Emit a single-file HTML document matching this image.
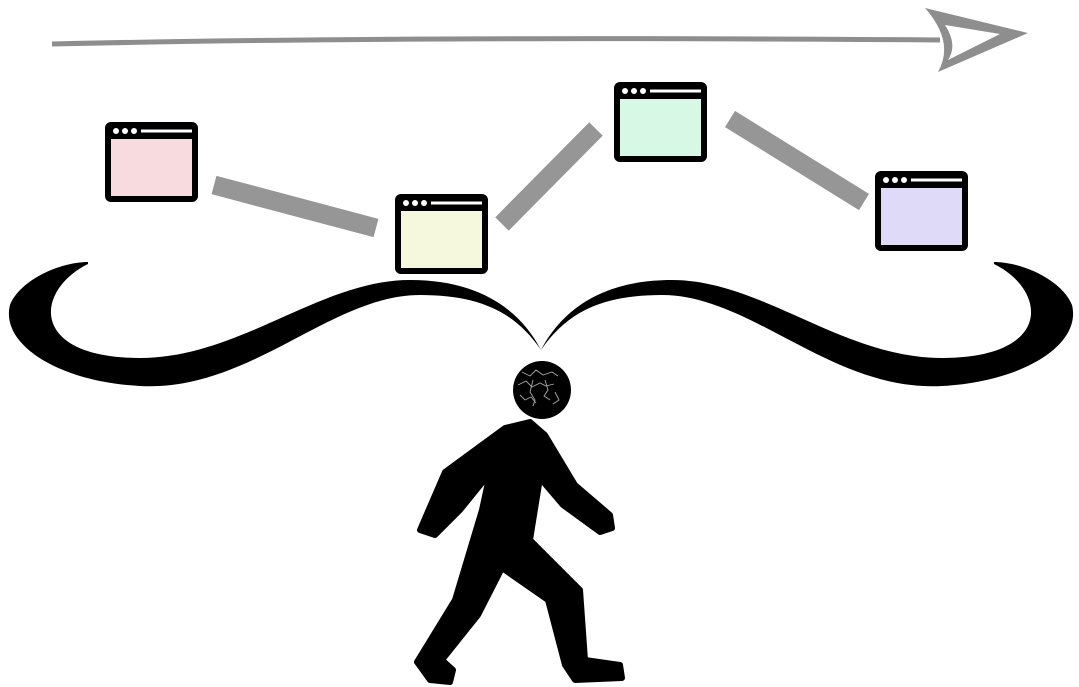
<!DOCTYPE html>
<html><head><meta charset="utf-8"><style>
html,body{margin:0;padding:0;background:#fff;width:1079px;height:687px;overflow:hidden}
</style></head><body>
<svg width="1079" height="687" viewBox="0 0 1079 687" xmlns="http://www.w3.org/2000/svg">
<path d="M52,44 Q400,36 940,40" stroke="#8e8e8e" stroke-width="5" fill="none"/>
<path d="M925,8 L1028,33 L938,72 Q955,42 925,8 Z M945,25 Q958,45 948,60 L1000,34 Z" fill="#8e8e8e" fill-rule="evenodd"/>
<g stroke="#969696" stroke-width="19" stroke-linecap="butt">
<line x1="214" y1="185" x2="376" y2="228"/>
<line x1="502" y1="224" x2="596" y2="129"/>
<line x1="730" y1="119" x2="864" y2="202"/>
</g>
<defs>
<g id="win">
<rect x="0" y="0" width="93" height="80" rx="6" fill="#000"/>
<circle cx="11" cy="9" r="3" fill="#fff"/><circle cx="20" cy="9" r="3" fill="#fff"/><circle cx="29" cy="9" r="3" fill="#fff"/>
<rect x="36" y="7.5" width="51" height="3" fill="#fff"/>
</g>
</defs>
<g transform="translate(105,122)"><use href="#win"/><rect x="6" y="17" width="81" height="57" fill="#f8dbde"/></g>
<g transform="translate(395,194)"><use href="#win"/><rect x="6" y="17" width="81" height="57" fill="#f5f8dc"/></g>
<g transform="translate(614,82)"><use href="#win"/><rect x="6" y="17" width="81" height="57" fill="#d8f8e6"/></g>
<g transform="translate(875,171)"><use href="#win"/><rect x="6" y="17" width="81" height="57" fill="#dfdaf8"/></g>
<g id="mh">
<path d="M88,264 C35,290 28,358 140,358 C240,358 320,280 410,280 C480,280 520,310 541,350 C515,312 480,295 420,295 C330,295 250,392 140,386 C60,382 0,345 10,305 C20,280 60,262 88,262 Z" fill="#000"/>
</g>
<use href="#mh" transform="translate(1082,0) scale(-1,1)"/>
<ellipse cx="542" cy="390" rx="29" ry="29" fill="#000"/>
<path d="M522,372 l8,4 l6,-6 l7,5 l9,-3 l6,4 M518,385 l8,-4 l6,6 l8,-4 l6,3 l8,-2 M520,395 l5,5 l6,-3 l5,6 M545,380 l3,10 l-4,6 l6,4 M533,380 l-3,12 l5,8 l-2,6 M555,392 l4,8 l-6,4" stroke="#aaa" stroke-width="0.9" fill="none"/>
<path d="M505,428 L530,422 L545,435 L575,485 L610,515 L612,528 L600,532 L563,505 L540,478 L530,540 L580,590 L585,660 L620,665 L622,678 L575,680 L565,665 L548,600 L502,568 L478,615 L442,660 L453,670 L450,682 L430,680 L417,662 L455,600 L482,510 L490,473 L460,510 L435,535 L420,530 L445,472 Z" fill="#000" stroke="#000" stroke-width="6" stroke-linejoin="round"/>
</svg>
</body></html>
